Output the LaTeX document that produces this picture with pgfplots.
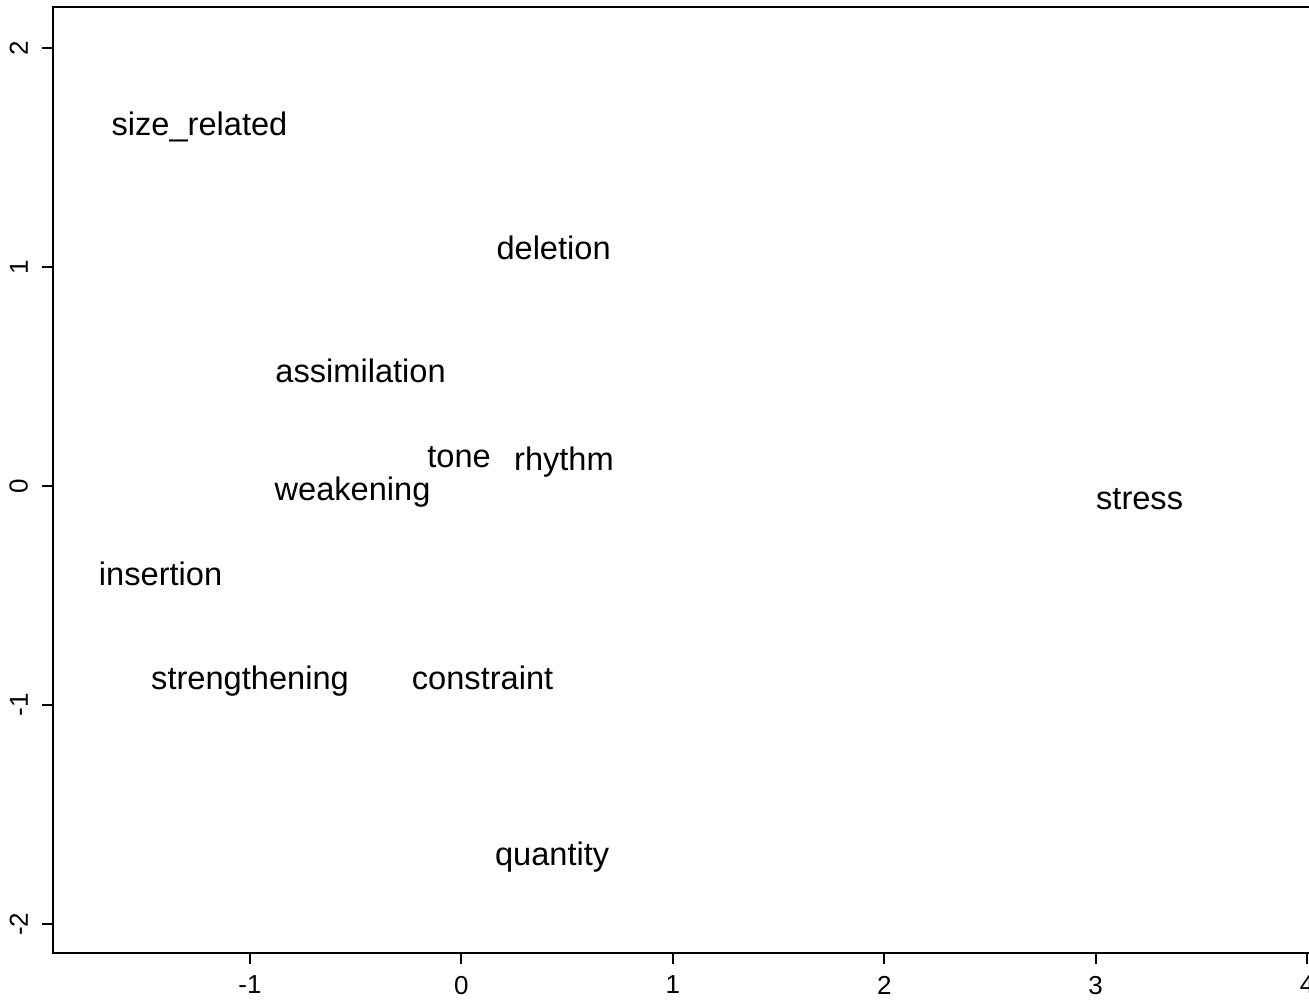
\documentclass[border=0pt]{standalone}
\usepackage{fontspec}
\setmainfont{Liberation Sans}
\usepackage{pgfplots}
\pgfplotsset{compat=1.18}
\begin{document}
\begin{tikzpicture}
\begin{axis}[
  name=ax,
  x=105.7pt, y=109.5pt,
  xmin=-1.932, xmax=4.3, ymin=-2.132, ymax=2.187,
  axis line style={line width=1pt},
  every tick/.style={black, line width=1pt},
  tick align=outside, major tick length=5.5pt,
  xtick={-1,0,1,2,3,4}, ytick={-2,-1,0,1,2},
  xtick pos=bottom, ytick pos=left,
  minor tick num=0,
  tick label style={font=\fontsize{13}{15}\selectfont},
  /pgf/number format/assume math mode=true,
  yticklabel style={rotate=90, anchor=south, yshift=3.5pt},
  xticklabel style={yshift=-2.5pt},
  clip=false,
  nodes near coords, point meta=explicit symbolic,
  nodes near coords align={center},
  every node near coord/.append style={anchor=base, yshift=-6.8pt, inner sep=0pt, font=\fontsize{16.3}{19}\selectfont, text=black},
]
\addplot[only marks, mark=none, draw=none] table[meta=label] {
x y label
-1.239 1.662 size\_related
0.436 1.096 deletion
-0.477 0.534 assimilation
-0.011 0.146 tone
0.485 0.132 rhythm
-0.515 -0.005 weakening
3.208 -0.046 stress
-1.423 -0.393 insertion
-1.000 -0.868 strengthening
0.100 -0.868 constraint
0.429 -1.671 quantity
};
\end{axis}
\pgfresetboundingbox
\path[use as bounding box] ([xshift=-26.5pt,yshift=-24pt]ax.south west) rectangle ([xshift=628pt,yshift=476.5pt]ax.south west);
\end{tikzpicture}
\end{document}
